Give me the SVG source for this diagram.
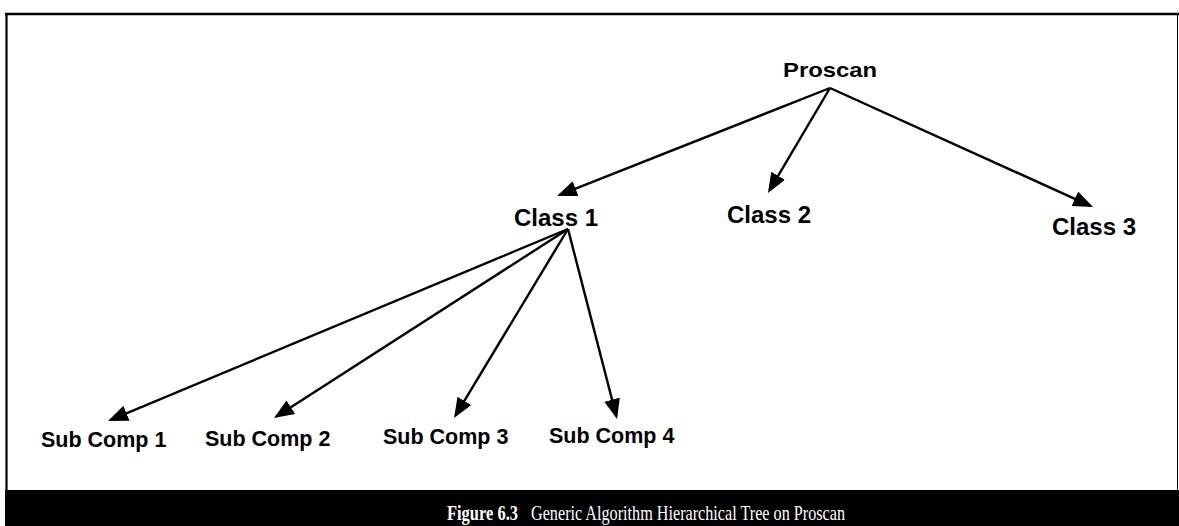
<svg xmlns="http://www.w3.org/2000/svg" width="1179" height="526" viewBox="0 0 1179 526">
  <style>
    .lbl { font-family: "Liberation Sans", Arial, sans-serif; font-weight: bold; fill: #000; }
    .top { font-size: 24px; }
    .sub { font-size: 21.5px; }
    .edge { stroke: #000; stroke-width: 2.4; fill: none; marker-end: url(#head); }
    .frame { stroke: #000; fill: none; }
    .caption { font-family: "Liberation Serif", "Times New Roman", serif; font-size: 21px; fill: #fff; }
  </style>
  <defs>
    <marker id="head" markerUnits="userSpaceOnUse" markerWidth="21" markerHeight="17" refX="17" refY="8" orient="auto">
      <path d="M0,0 L20,8 L0,16 z" fill="#000"/>
    </marker>
  </defs>

  <rect width="1179" height="526" fill="#fff"/>

  <!-- outer frame -->
  <g id="frame">
    <line class="frame" x1="5" y1="14" x2="1179" y2="14" stroke-width="2.6"/>
    <line class="frame" x1="6.5" y1="13" x2="6.5" y2="491" stroke-width="2.2"/>
    <line class="frame" x1="1177.5" y1="14" x2="1177.5" y2="491" stroke-width="1"/>
  </g>

  <!-- connectors: each line stops 3px short of its arrow tip -->
  <g id="connectors">
    <line class="edge" x1="830" y1="88" x2="559.8" y2="194.9"/>
    <line class="edge" x1="830" y1="88" x2="769.5" y2="190.4"/>
    <line class="edge" x1="830" y1="88" x2="1090.3" y2="205.8"/>
    <line class="edge" x1="568" y1="229" x2="110.8" y2="419.8"/>
    <line class="edge" x1="568" y1="229" x2="276.5" y2="416.4"/>
    <line class="edge" x1="568" y1="229" x2="455.6" y2="415.4"/>
    <line class="edge" x1="568" y1="229" x2="616.3" y2="416.1"/>
  </g>

  <!-- nodes -->
  <g id="proscan"><text class="lbl" x="783" y="77" font-size="21" textLength="94" lengthAdjust="spacingAndGlyphs">Proscan</text></g>
  <g id="class1"><text class="lbl top" x="514" y="226">Class 1</text></g>
  <g id="class2"><text class="lbl top" x="727" y="223">Class 2</text></g>
  <g id="class3"><text class="lbl top" x="1052" y="235">Class 3</text></g>
  <g id="subcomp1"><text class="lbl sub" x="41" y="447">Sub Comp 1</text></g>
  <g id="subcomp2"><text class="lbl sub" x="205" y="446">Sub Comp 2</text></g>
  <g id="subcomp3"><text class="lbl sub" x="383" y="444">Sub Comp 3</text></g>
  <g id="subcomp4"><text class="lbl sub" x="549" y="443">Sub Comp 4</text></g>

  <!-- caption bar -->
  <g id="caption">
    <rect x="5" y="490" width="1174" height="36" fill="#000"/>
    <text class="caption" x="447" y="520" font-weight="bold" textLength="71" lengthAdjust="spacingAndGlyphs">Figure 6.3</text>
    <text class="caption" x="531" y="520" textLength="314" lengthAdjust="spacingAndGlyphs">Generic Algorithm Hierarchical Tree on Proscan</text>
  </g>
</svg>
